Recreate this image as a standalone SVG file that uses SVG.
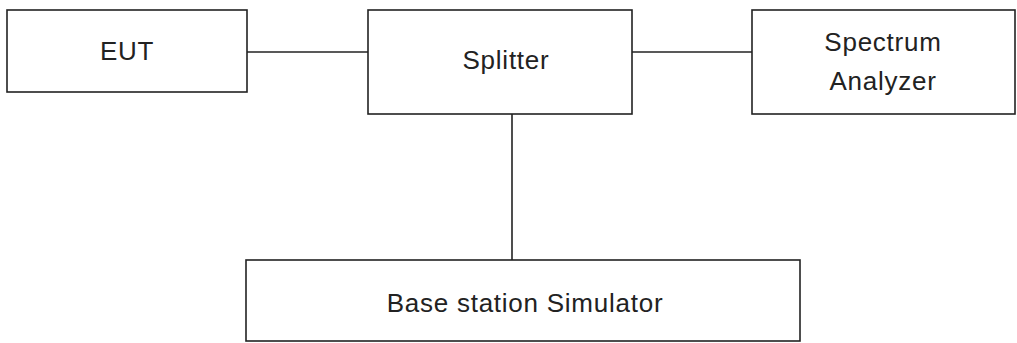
<svg xmlns="http://www.w3.org/2000/svg" width="1017" height="343" viewBox="0 0 1017 343">
<style>
.box{fill:#fff;stroke:#222;stroke-width:1.6}
.lbl{font-family:"Liberation Sans",Arial,sans-serif;font-size:26px;letter-spacing:0.75px;fill:#222;text-anchor:middle}
.con{stroke:#222;stroke-width:1.6;fill:none}
</style>
<rect width="1017" height="343" fill="#fff"/>
<g id="connectors">
<line class="con" x1="247" y1="52" x2="368" y2="52"/>
<line class="con" x1="632" y1="52" x2="752" y2="52"/>
<line class="con" x1="512" y1="114" x2="512" y2="260"/>
</g>
<g id="eut">
<rect class="box" x="7" y="10" width="240" height="82"/>
<text class="lbl" x="127" y="60">EUT</text>
</g>
<g id="splitter">
<rect class="box" x="368" y="10" width="264" height="104"/>
<text class="lbl" x="506" y="69">Splitter</text>
</g>
<g id="spectrum-analyzer">
<rect class="box" x="752" y="10" width="263" height="104"/>
<text class="lbl" x="883" y="50.5">Spectrum</text>
<text class="lbl" x="883" y="90">Analyzer</text>
</g>
<g id="base-station-simulator">
<rect class="box" x="246" y="260" width="554" height="81"/>
<text class="lbl" x="525" y="312">Base station Simulator</text>
</g>
</svg>
